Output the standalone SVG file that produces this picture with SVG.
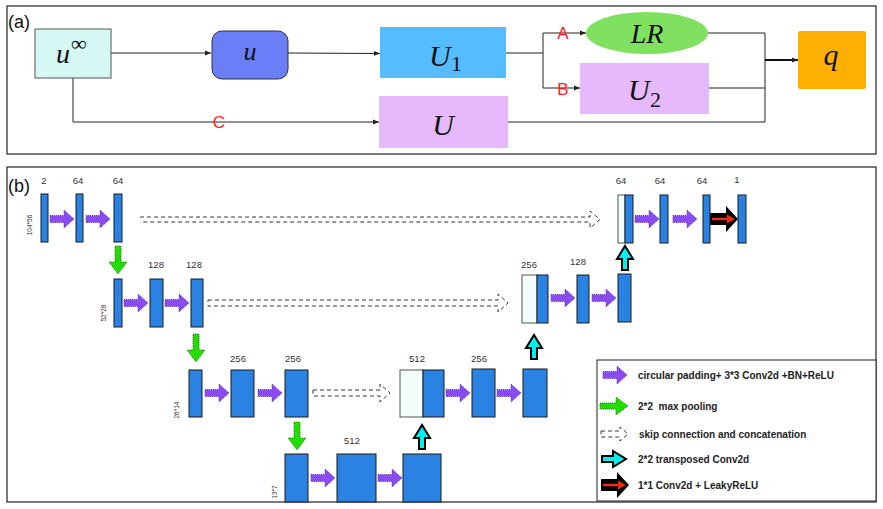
<svg xmlns="http://www.w3.org/2000/svg" width="883" height="509" viewBox="0 0 883 509">
<style>
.panel{fill:#fff;stroke:#222;stroke-width:1.2}
.ln{fill:none;stroke:#222;stroke-width:1}
.math{font-family:"Liberation Serif","DejaVu Serif",serif;font-style:italic;fill:#111}
.sub{font-family:"Liberation Serif","DejaVu Serif",serif;font-style:normal;fill:#111}
.lbl{font-family:"Liberation Sans",Arial,sans-serif;font-size:18px;fill:#111}
.red{font-family:"Liberation Sans",Arial,sans-serif;font-size:17px;fill:#ff1a1a;text-anchor:middle}
.blk{fill:#2a83e3;stroke:#1a1a1a;stroke-width:1}
.wht{fill:#f3fdfb;stroke:#555;stroke-width:1}
.num{font-family:"Liberation Sans",Arial,sans-serif;font-size:9.5px;fill:#333;text-anchor:middle}
.side{font-family:"Liberation Sans",Arial,sans-serif;font-size:6.5px;fill:#333;text-anchor:middle}
.leg{font-family:"Liberation Sans",Arial,sans-serif;font-size:10px;font-weight:bold;fill:#222}
.skip{fill:none;stroke:#222;stroke-width:0.9;stroke-dasharray:4 3}
</style>
<defs>
<marker id="ah" viewBox="0 0 10 10" refX="10" refY="5" markerWidth="6" markerHeight="6" orient="auto" markerUnits="userSpaceOnUse"><path d="M0,1 L10,5 L0,9 Z" fill="#222"/></marker>
<path id="pArr" d="M0,-3.5 H14 V-9 L24,0 L14,9 V3.5 H0 Z" fill="#8a4cf2" stroke="#4a2a90" stroke-width="0.8" stroke-dasharray="1 1"/>
<path id="gArr" d="M-3,0 H3 V16 H9 L0,28 L-9,16 H-3 Z" fill="#22dd00" stroke="#1a6a10" stroke-width="0.8" stroke-dasharray="1 1"/>
<path id="cArr" d="M-3,0 V-11 H-8 L0,-24 L8,-11 H3 V0 Z" fill="#00f0f0" stroke="#000" stroke-width="2"/>
<g id="bArr"><path d="M0,-6 H16 V-13 L28,0 L16,13 V6 H0 Z" fill="#000"/><path d="M2,-1.2 H17 V-4.5 L25,0 L17,4.5 V1.2 H2 Z" fill="#ee2a10"/></g>
</defs>

<!-- Panel (a) -->
<rect class="panel" x="7" y="6" width="869" height="148"/>
<text class="lbl" x="8" y="28">(a)</text>

<g id="connectors-a">
<line class="ln" x1="111" y1="53" x2="211" y2="53" marker-end="url(#ah)"/>
<line class="ln" x1="288" y1="53" x2="380" y2="53.5" marker-end="url(#ah)"/>
<polyline class="ln" points="73,78 73,122 379,122" marker-end="url(#ah)"/>
<line class="ln" x1="506" y1="53" x2="543" y2="53"/>
<line class="ln" x1="543" y1="33" x2="543" y2="88"/>
<line class="ln" x1="543" y1="33" x2="586" y2="33" marker-end="url(#ah)"/>
<line class="ln" x1="543" y1="88" x2="580" y2="88" marker-end="url(#ah)"/>
<polyline class="ln" points="708,33 765,33 765,122 508,122"/>
<line class="ln" x1="709" y1="88" x2="765" y2="88"/>
<line x1="765" y1="60" x2="798" y2="60" stroke="#111" stroke-width="1.8" marker-end="url(#ah)"/>
<text class="red" x="219" y="128">C</text>
<text class="red" x="563" y="39">A</text>
<text class="red" x="563" y="95">B</text>
</g>

<g id="node-uinf">
<rect x="35" y="29" width="76" height="49" fill="#d6f8f4" stroke="#555" stroke-width="1"/>
<text class="math" x="56" y="63" font-size="28">u</text>
<text class="sub" x="71" y="51" font-size="22">∞</text>
</g>
<g id="node-u">
<rect x="212" y="31" width="76" height="48" rx="10" fill="#6a7ef8" stroke="#333" stroke-width="1"/>
<text class="math" x="250" y="60" font-size="26" text-anchor="middle">u</text>
</g>
<g id="node-U1">
<rect x="380" y="27" width="126" height="51" fill="#55bdfd"/>
<text class="math" x="429" y="66" font-size="30">U</text>
<text class="sub" x="451" y="71" font-size="22">1</text>
</g>
<g id="node-U">
<rect x="379" y="96" width="129" height="52" fill="#e5b9fb"/>
<text class="math" x="443" y="135" font-size="30" text-anchor="middle">U</text>
</g>
<g id="node-LR">
<ellipse cx="647" cy="33" rx="61" ry="21" fill="#80e060"/>
<text class="math" x="647" y="43" font-size="28" text-anchor="middle">LR</text>
</g>
<g id="node-U2">
<rect x="580" y="63" width="129" height="51" fill="#e5b9fb"/>
<text class="math" x="628" y="100" font-size="30">U</text>
<text class="sub" x="650" y="107" font-size="22">2</text>
</g>
<g id="node-q">
<rect x="798" y="31" width="68" height="58" rx="2" fill="#fdb000"/>
<text class="math" x="831" y="65" font-size="30" text-anchor="middle">q</text>
</g>

<!-- Panel (b) -->
<rect class="panel" x="7" y="167" width="869" height="335"/>
<text class="lbl" x="8" y="192">(b)</text>

<g id="connectors-b">
<path class="skip" d="M140,217 H590 V211 L600,219.5 L590,228 V222 H140"/>
<path class="skip" d="M208,300 H498 V294 L508,303 L498,312 V306 H208 Z"/>
<path class="skip" d="M313,390 H380 V384 L390,393 L380,402 V396 H313 Z"/>
<use href="#pArr" x="50" y="219"/>
<use href="#pArr" x="86" y="219"/>
<use href="#pArr" x="124" y="303"/>
<use href="#pArr" x="165" y="303"/>
<use href="#pArr" x="205" y="393"/>
<use href="#pArr" x="258" y="393"/>
<use href="#pArr" x="311" y="478"/>
<use href="#pArr" x="378" y="478"/>
<use href="#pArr" x="446" y="393"/>
<use href="#pArr" x="497" y="393"/>
<use href="#pArr" x="551" y="298"/>
<use href="#pArr" x="592" y="298"/>
<use href="#pArr" x="635" y="219"/>
<use href="#pArr" x="673" y="219"/>
<use href="#gArr" x="118" y="246"/>
<use href="#gArr" x="196" y="334"/>
<use href="#gArr" x="297" y="422"/>
<use href="#cArr" x="422" y="449"/>
<use href="#cArr" x="534" y="359"/>
<use href="#cArr" x="625" y="270"/>
<use href="#bArr" x="710" y="219"/>
</g>

<g id="row1-enc">
<rect class="blk" x="41" y="194" width="7" height="48"/>
<rect class="blk" x="76" y="194" width="7" height="48"/>
<rect class="blk" x="114" y="194" width="8" height="48"/>
<text class="num" x="44" y="184">2</text>
<text class="num" x="78" y="184">64</text>
<text class="num" x="118" y="184">64</text>
<text class="side" transform="translate(32,225) rotate(-90)">104*56</text>
</g>
<g id="row2-enc">
<rect class="blk" x="114" y="279" width="8" height="48"/>
<rect class="blk" x="150" y="279" width="13" height="48"/>
<rect class="blk" x="191" y="279" width="12" height="48"/>
<text class="num" x="156" y="268">128</text>
<text class="num" x="194" y="268">128</text>
<text class="side" transform="translate(106,313) rotate(-90)">52*28</text>
</g>
<g id="row3-enc">
<rect class="blk" x="189" y="370" width="13" height="47"/>
<rect class="blk" x="231" y="370" width="23" height="47"/>
<rect class="blk" x="285" y="370" width="23" height="47"/>
<text class="num" x="238" y="362">256</text>
<text class="num" x="293" y="362">256</text>
<text class="side" transform="translate(179,410) rotate(-90)">26*14</text>
</g>
<g id="row4-bottleneck">
<rect class="blk" x="285" y="454" width="23" height="48"/>
<rect class="blk" x="337" y="454" width="39" height="48"/>
<rect class="blk" x="403" y="454" width="38" height="48"/>
<text class="num" x="352" y="444">512</text>
<text class="side" transform="translate(277,492) rotate(-90)">13*7</text>
</g>
<g id="row3-dec">
<rect class="wht" x="400" y="370" width="23" height="47"/>
<rect class="blk" x="423" y="370" width="21" height="47"/>
<rect class="blk" x="472" y="369" width="23" height="48"/>
<rect class="blk" x="523" y="369" width="24" height="48"/>
<text class="num" x="417" y="362">512</text>
<text class="num" x="479" y="362">256</text>
</g>
<g id="row2-dec">
<rect class="wht" x="522" y="275" width="15" height="48"/>
<rect class="blk" x="537" y="275" width="11" height="48"/>
<rect class="blk" x="577" y="275" width="12" height="48"/>
<rect class="blk" x="618" y="274" width="13" height="48"/>
<text class="num" x="529" y="268">256</text>
<text class="num" x="578" y="265">128</text>
</g>
<g id="row1-dec">
<rect class="wht" x="618" y="195" width="7" height="48"/>
<rect class="blk" x="625" y="195" width="8" height="48"/>
<rect class="blk" x="660" y="195" width="8" height="48"/>
<rect class="blk" x="703" y="195" width="7" height="48"/>
<rect class="blk" x="738" y="195" width="8" height="48"/>
<text class="num" x="621" y="184">64</text>
<text class="num" x="660" y="184">64</text>
<text class="num" x="702" y="184">64</text>
<text class="num" x="737" y="183">1</text>
</g>

<g id="legend">
<rect x="597" y="360" width="279" height="141" fill="#fff" stroke="#222" stroke-width="1"/>
<use href="#pArr" x="603" y="375"/>
<text class="leg" x="638" y="379">circular padding+ 3*3 Conv2d +BN+ReLU</text>
<g transform="translate(600,406) rotate(-90)"><use href="#gArr" x="0" y="0"/></g>
<text class="leg" x="638" y="410" xml:space="preserve">2*2  max pooling</text>
<path class="skip" d="M601,431 H620 V427 L628,434 L620,441 V437 H601 Z" stroke-dasharray="3 3"/>
<text class="leg" x="639" y="438">skip connection and concatenation</text>
<g transform="translate(602,459) rotate(90)"><use href="#cArr" x="0" y="0"/></g>
<text class="leg" x="638" y="463">2*2 transposed Conv2d</text>
<use href="#bArr" x="601" y="485"/>
<text class="leg" x="638" y="489">1*1 Conv2d + LeakyReLU</text>
</g>
</svg>
